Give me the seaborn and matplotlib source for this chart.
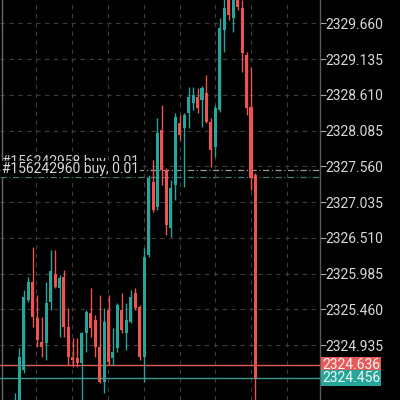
import matplotlib
matplotlib.use("Agg")
import matplotlib.pyplot as plt
import matplotlib.transforms as mtransforms
import numpy as np
import pandas as pd
import seaborn as sns

# ---- data (XAUUSD-like M1 candles) ----
opens = [2323.91, 2324.10, 2324.57, 2325.60, 2325.86, 2325.33, 2324.98, 2324.96, 2325.57, 2325.98,
         2325.77, 2325.93, 2325.20, 2324.76, 2324.74, 2324.67, 2325.11, 2325.41, 2325.30, 2324.91,
         2324.39, 2325.45, 2324.74, 2324.89, 2325.45, 2325.11, 2325.27, 2325.70, 2325.49, 2324.76,
         2326.26, 2327.33, 2326.96, 2328.10, 2327.51, 2326.65, 2327.29, 2328.20, 2328.12, 2328.35,
         2328.49, 2328.58, 2328.54, 2328.64, 2328.21, 2327.85, 2328.39, 2329.56, 2330.04, 2329.74,
         2330.05, 2329.89, 2329.20, 2328.43, 2327.43]
highs = [2324.23, 2324.89, 2325.74, 2325.93, 2326.37, 2325.67, 2325.35, 2325.86, 2326.33, 2326.33,
         2325.96, 2326.04, 2325.48, 2325.04, 2325.04, 2325.13, 2325.45, 2325.77, 2325.38, 2325.67,
         2325.48, 2325.67, 2325.19, 2325.55, 2325.70, 2325.55, 2325.74, 2325.77, 2325.52, 2326.36,
         2327.43, 2327.65, 2328.27, 2328.46, 2327.54, 2327.36, 2328.35, 2328.32, 2328.35, 2328.73,
         2328.73, 2328.71, 2328.74, 2328.90, 2328.27, 2328.46, 2329.74, 2330.08, 2330.15, 2330.15,
         2330.15, 2330.01, 2329.24, 2329.02, 2327.46]
lows = [2323.76, 2323.98, 2324.52, 2325.57, 2325.20, 2324.91, 2324.76, 2324.71, 2325.45, 2325.77,
        2325.05, 2325.05, 2324.64, 2324.61, 2324.61, 2324.13, 2324.83, 2325.05, 2324.76, 2324.38,
        2324.23, 2324.64, 2324.64, 2324.83, 2325.11, 2324.86, 2325.26, 2325.45, 2324.71, 2324.39,
        2326.23, 2326.89, 2326.92, 2327.29, 2326.55, 2326.52, 2327.07, 2327.95, 2327.26, 2328.12,
        2328.39, 2328.35, 2328.14, 2328.20, 2327.55, 2327.70, 2328.36, 2329.24, 2329.71, 2329.54,
        2329.86, 2328.95, 2328.32, 2327.21, 2323.83]
closes = [2324.05, 2324.76, 2325.64, 2325.86, 2325.35, 2325.01, 2324.91, 2325.55, 2326.02, 2325.79,
          2325.92, 2325.20, 2324.76, 2324.71, 2324.67, 2325.11, 2325.42, 2325.19, 2324.91, 2324.39,
          2325.27, 2324.69, 2324.83, 2325.52, 2325.16, 2325.30, 2325.64, 2325.48, 2324.76, 2326.23,
          2327.39, 2326.92, 2328.05, 2327.51, 2326.70, 2327.24, 2328.29, 2328.02, 2328.32, 2328.58,
          2328.61, 2328.42, 2328.71, 2328.21, 2327.80, 2328.42, 2329.59, 2329.89, 2329.79, 2330.04,
          2329.90, 2329.23, 2328.42, 2327.39, 2324.456]

ytick_values = [2329.660, 2329.135, 2328.610, 2328.085, 2327.560,
                2327.035, 2326.510, 2325.985, 2325.460, 2324.935]
ask_price = 2324.636
bid_price = 2324.456
order_labels = ["#156242958 buy, 0.01", "#156242960 buy, 0.01"]
order_prices = [2327.51, 2327.41]

# ---- style ----
sns.set_theme(style="dark", rc={"axes.facecolor": "black", "figure.facecolor": "black"})
plt.rcParams['font.family'] = ['Roboto', 'DejaVu Sans']

UP = "#26a69a"
DOWN = "#ef5350"
TXT = "#d8d8d8"

fig = plt.figure(figsize=(4, 4), dpi=100, facecolor="black")
ax = fig.add_axes([0, 0, 0.8, 1])
ax.set_facecolor("black")

df = pd.DataFrame({"o": opens, "h": highs, "l": lows, "c": closes})
df["i"] = np.arange(len(df))
df["up"] = df["c"] >= df["o"]
colors = [UP if u else DOWN for u in df["up"]]

ax.vlines(df["i"], df["l"], df["h"], colors=colors, lw=1.0, zorder=3)
body_h = (df["c"] - df["o"]).abs().clip(lower=0.015)
body_b = df[["o", "c"]].min(axis=1)
ax.bar(df["i"], body_h, bottom=body_b, width=0.68, color=colors, linewidth=0, zorder=4)

ax.set_xlim(-3.37, 68.5)
ax.set_ylim(2324.127, 2330.005)

# grid
grid_x = [4.7, 12.8, 20.9, 28.9, 37.1, 44.9, 53.0, 61.1]
ax.set_xticks(grid_x)
ax.tick_params(axis="x", length=0, labelbottom=False)
ax.yaxis.tick_right()
ax.set_yticks(ytick_values)
ax.set_yticklabels([f"{v:.3f}" for v in ytick_values])
ax.tick_params(axis="y", colors="#aaaaaa", labelcolor=TXT, length=4, width=0.8,
               pad=0, labelsize=10, direction="out")
ax.grid(True, color="#3c3c3c", ls=(0, (4, 4)), lw=0.8, zorder=0)

for s in ["top", "bottom", "left"]:
    ax.spines[s].set_visible(False)
ax.spines["right"].set_color("#5a5a5a")
ax.spines["right"].set_linewidth(1.0)
ax.axvline(-2.9, color="#6a6a6a", lw=1.0, zorder=1)

# price lines
ax.axhline(ask_price, color="#e05a5a", lw=1.0, zorder=2)
ax.axhline(bid_price, color="#3a9a90", lw=1.0, zorder=2)

trans = mtransforms.blended_transform_factory(ax.transAxes, ax.transData)
ax.text(1.006, ask_price, f"{ask_price:.3f}", transform=trans, va="center", ha="left",
        color="#f4f4f4", fontsize=10, clip_on=False, zorder=6,
        bbox=dict(boxstyle="square,pad=0.07", fc="#e8595a", ec="none"))
ax.text(1.006, bid_price, f"{bid_price:.3f}", transform=trans, va="center", ha="left",
        color="#f4f4f4", fontsize=10, clip_on=False, zorder=6,
        bbox=dict(boxstyle="square,pad=0.07", fc="#26a69a", ec="none"))

# order lines and labels
ax.axhline(order_prices[0], color="#9a9a9a", lw=0.9, ls=(0, (5, 2, 1, 2)), zorder=2)
ax.axhline(order_prices[1], color="#3d7c77", lw=0.9, ls=(0, (5, 2, 1, 2)), zorder=2)
ax.text(0.006, order_prices[0] + 0.01, order_labels[0], transform=trans, va="bottom", ha="left",
        color="#cfcfcf", fontsize=10, zorder=5)
ax.text(0.006, order_prices[1] + 0.01, order_labels[1], transform=trans, va="bottom", ha="left",
        color="#dcdcdc", fontsize=10, zorder=5,
        bbox=dict(boxstyle="square,pad=0.05", fc="black", ec="none"))

fig.savefig("out.png", dpi=100, facecolor="black")
